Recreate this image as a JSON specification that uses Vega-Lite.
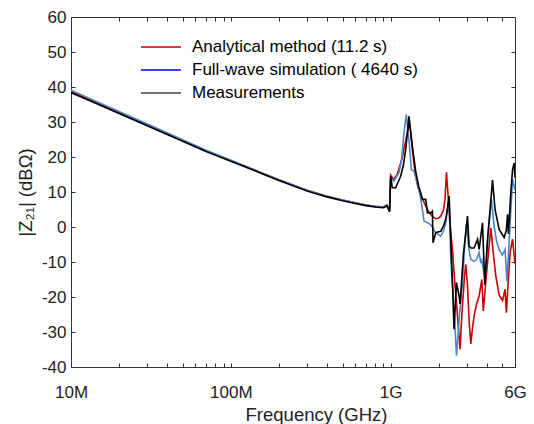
{
  "$schema": "https://vega.github.io/schema/vega-lite/v6.json",
  "width": 444,
  "height": 350,
  "autosize": {"type": "none"},
  "padding": {"left": 71, "top": 17, "right": 19, "bottom": 57},
  "config": {
    "font": "Liberation Sans",
    "view": {"stroke": "#333333", "strokeWidth": 1},
    "axis": {
      "grid": false,
      "domain": false,
      "tickColor": "#333333",
      "tickSize": -4,
      "labelFont": "Liberation Sans",
      "labelFontSize": 17,
      "labelColor": "#222222",
      "titleFont": "Liberation Sans",
      "titleFontSize": 18.5,
      "titleFontWeight": "normal",
      "titleColor": "#222222"
    }
  },
  "data": {
    "values": [
      {"s": "Analytical method (11.2 s)", "f": 1e7, "v": 38.7},
      {"s": "Analytical method (11.2 s)", "f": 1.5e7, "v": 35.2},
      {"s": "Analytical method (11.2 s)", "f": 2e7, "v": 32.7},
      {"s": "Analytical method (11.2 s)", "f": 3e7, "v": 29.1},
      {"s": "Analytical method (11.2 s)", "f": 5e7, "v": 24.7},
      {"s": "Analytical method (11.2 s)", "f": 7e7, "v": 21.8},
      {"s": "Analytical method (11.2 s)", "f": 1e8, "v": 19.0},
      {"s": "Analytical method (11.2 s)", "f": 1.5e8, "v": 15.8},
      {"s": "Analytical method (11.2 s)", "f": 2e8, "v": 13.5},
      {"s": "Analytical method (11.2 s)", "f": 3e8, "v": 10.5},
      {"s": "Analytical method (11.2 s)", "f": 4e8, "v": 8.8},
      {"s": "Analytical method (11.2 s)", "f": 5e8, "v": 7.7},
      {"s": "Analytical method (11.2 s)", "f": 6e8, "v": 6.9},
      {"s": "Analytical method (11.2 s)", "f": 7e8, "v": 6.3},
      {"s": "Analytical method (11.2 s)", "f": 8e8, "v": 5.9},
      {"s": "Analytical method (11.2 s)", "f": 9e8, "v": 5.7},
      {"s": "Analytical method (11.2 s)", "f": 9.5e8, "v": 6.3},
      {"s": "Analytical method (11.2 s)", "f": 9.85e8, "v": 4.4},
      {"s": "Analytical method (11.2 s)", "f": 1.0e9, "v": 14.8},
      {"s": "Analytical method (11.2 s)", "f": 1.04e9, "v": 13.6},
      {"s": "Analytical method (11.2 s)", "f": 1.10e9, "v": 15.0},
      {"s": "Analytical method (11.2 s)", "f": 1.18e9, "v": 19.7},
      {"s": "Analytical method (11.2 s)", "f": 1.24e9, "v": 24.5},
      {"s": "Analytical method (11.2 s)", "f": 1.28e9, "v": 27.5},
      {"s": "Analytical method (11.2 s)", "f": 1.315e9, "v": 29.5},
      {"s": "Analytical method (11.2 s)", "f": 1.34e9, "v": 26.0},
      {"s": "Analytical method (11.2 s)", "f": 1.368e9, "v": 22.1},
      {"s": "Analytical method (11.2 s)", "f": 1.40e9, "v": 18.0},
      {"s": "Analytical method (11.2 s)", "f": 1.435e9, "v": 14.5},
      {"s": "Analytical method (11.2 s)", "f": 1.48e9, "v": 11.5},
      {"s": "Analytical method (11.2 s)", "f": 1.54e9, "v": 9.3},
      {"s": "Analytical method (11.2 s)", "f": 1.60e9, "v": 7.5},
      {"s": "Analytical method (11.2 s)", "f": 1.657e9, "v": 6.0},
      {"s": "Analytical method (11.2 s)", "f": 1.72e9, "v": 4.6},
      {"s": "Analytical method (11.2 s)", "f": 1.78e9, "v": 3.6},
      {"s": "Analytical method (11.2 s)", "f": 1.85e9, "v": 2.8},
      {"s": "Analytical method (11.2 s)", "f": 1.915e9, "v": 2.4},
      {"s": "Analytical method (11.2 s)", "f": 1.99e9, "v": 2.5},
      {"s": "Analytical method (11.2 s)", "f": 2.058e9, "v": 3.1},
      {"s": "Analytical method (11.2 s)", "f": 2.14e9, "v": 4.8},
      {"s": "Analytical method (11.2 s)", "f": 2.19e9, "v": 8.0},
      {"s": "Analytical method (11.2 s)", "f": 2.235e9, "v": 15.6},
      {"s": "Analytical method (11.2 s)", "f": 2.28e9, "v": 10.0},
      {"s": "Analytical method (11.2 s)", "f": 2.35e9, "v": 1.0},
      {"s": "Analytical method (11.2 s)", "f": 2.437e9, "v": -6.4},
      {"s": "Analytical method (11.2 s)", "f": 2.53e9, "v": -17.0},
      {"s": "Analytical method (11.2 s)", "f": 2.62e9, "v": -25.4},
      {"s": "Analytical method (11.2 s)", "f": 2.72e9, "v": -34.9},
      {"s": "Analytical method (11.2 s)", "f": 2.80e9, "v": -24.0},
      {"s": "Analytical method (11.2 s)", "f": 2.90e9, "v": -14.0},
      {"s": "Analytical method (11.2 s)", "f": 2.953e9, "v": -10.7},
      {"s": "Analytical method (11.2 s)", "f": 3.02e9, "v": -16.0},
      {"s": "Analytical method (11.2 s)", "f": 3.10e9, "v": -27.0},
      {"s": "Analytical method (11.2 s)", "f": 3.174e9, "v": -33.4},
      {"s": "Analytical method (11.2 s)", "f": 3.25e9, "v": -29.0},
      {"s": "Analytical method (11.2 s)", "f": 3.329e9, "v": -25.4},
      {"s": "Analytical method (11.2 s)", "f": 3.45e9, "v": -22.0},
      {"s": "Analytical method (11.2 s)", "f": 3.578e9, "v": -19.7},
      {"s": "Analytical method (11.2 s)", "f": 3.72e9, "v": -15.0},
      {"s": "Analytical method (11.2 s)", "f": 3.80e9, "v": -24.0},
      {"s": "Analytical method (11.2 s)", "f": 3.95e9, "v": -15.0},
      {"s": "Analytical method (11.2 s)", "f": 4.10e9, "v": -7.0},
      {"s": "Analytical method (11.2 s)", "f": 4.236e9, "v": -0.3},
      {"s": "Analytical method (11.2 s)", "f": 4.40e9, "v": -8.0},
      {"s": "Analytical method (11.2 s)", "f": 4.55e9, "v": -14.0},
      {"s": "Analytical method (11.2 s)", "f": 4.775e9, "v": -19.5},
      {"s": "Analytical method (11.2 s)", "f": 5.015e9, "v": -21.0},
      {"s": "Analytical method (11.2 s)", "f": 5.2e9, "v": -17.8},
      {"s": "Analytical method (11.2 s)", "f": 5.30e9, "v": -24.5},
      {"s": "Analytical method (11.2 s)", "f": 5.45e9, "v": -15.0},
      {"s": "Analytical method (11.2 s)", "f": 5.60e9, "v": -7.0},
      {"s": "Analytical method (11.2 s)", "f": 5.794e9, "v": -3.5},
      {"s": "Analytical method (11.2 s)", "f": 6.0e9, "v": -10.5},

      {"s": "Full-wave simulation ( 4640 s)", "f": 1e7, "v": 39.1},
      {"s": "Full-wave simulation ( 4640 s)", "f": 1.5e7, "v": 35.5},
      {"s": "Full-wave simulation ( 4640 s)", "f": 2e7, "v": 33.0},
      {"s": "Full-wave simulation ( 4640 s)", "f": 3e7, "v": 29.4},
      {"s": "Full-wave simulation ( 4640 s)", "f": 5e7, "v": 24.9},
      {"s": "Full-wave simulation ( 4640 s)", "f": 7e7, "v": 21.9},
      {"s": "Full-wave simulation ( 4640 s)", "f": 1e8, "v": 19.1},
      {"s": "Full-wave simulation ( 4640 s)", "f": 1.5e8, "v": 15.8},
      {"s": "Full-wave simulation ( 4640 s)", "f": 2e8, "v": 13.5},
      {"s": "Full-wave simulation ( 4640 s)", "f": 3e8, "v": 10.5},
      {"s": "Full-wave simulation ( 4640 s)", "f": 4e8, "v": 8.8},
      {"s": "Full-wave simulation ( 4640 s)", "f": 5e8, "v": 7.7},
      {"s": "Full-wave simulation ( 4640 s)", "f": 6e8, "v": 6.9},
      {"s": "Full-wave simulation ( 4640 s)", "f": 7e8, "v": 6.3},
      {"s": "Full-wave simulation ( 4640 s)", "f": 8e8, "v": 5.9},
      {"s": "Full-wave simulation ( 4640 s)", "f": 9e8, "v": 5.7},
      {"s": "Full-wave simulation ( 4640 s)", "f": 9.5e8, "v": 6.2},
      {"s": "Full-wave simulation ( 4640 s)", "f": 9.85e8, "v": 4.6},
      {"s": "Full-wave simulation ( 4640 s)", "f": 1.0e9, "v": 14.0},
      {"s": "Full-wave simulation ( 4640 s)", "f": 1.049e9, "v": 13.1},
      {"s": "Full-wave simulation ( 4640 s)", "f": 1.127e9, "v": 15.5},
      {"s": "Full-wave simulation ( 4640 s)", "f": 1.17e9, "v": 19.0},
      {"s": "Full-wave simulation ( 4640 s)", "f": 1.212e9, "v": 26.9},
      {"s": "Full-wave simulation ( 4640 s)", "f": 1.254e9, "v": 32.1},
      {"s": "Full-wave simulation ( 4640 s)", "f": 1.28e9, "v": 28.0},
      {"s": "Full-wave simulation ( 4640 s)", "f": 1.302e9, "v": 25.0},
      {"s": "Full-wave simulation ( 4640 s)", "f": 1.349e9, "v": 16.4},
      {"s": "Full-wave simulation ( 4640 s)", "f": 1.40e9, "v": 15.9},
      {"s": "Full-wave simulation ( 4640 s)", "f": 1.45e9, "v": 13.5},
      {"s": "Full-wave simulation ( 4640 s)", "f": 1.504e9, "v": 10.7},
      {"s": "Full-wave simulation ( 4640 s)", "f": 1.55e9, "v": 7.5},
      {"s": "Full-wave simulation ( 4640 s)", "f": 1.58e9, "v": 5.0},
      {"s": "Full-wave simulation ( 4640 s)", "f": 1.618e9, "v": 1.7},
      {"s": "Full-wave simulation ( 4640 s)", "f": 1.70e9, "v": 1.2},
      {"s": "Full-wave simulation ( 4640 s)", "f": 1.782e9, "v": 0.7},
      {"s": "Full-wave simulation ( 4640 s)", "f": 1.915e9, "v": -1.6},
      {"s": "Full-wave simulation ( 4640 s)", "f": 2.058e9, "v": -2.6},
      {"s": "Full-wave simulation ( 4640 s)", "f": 2.15e9, "v": -1.0},
      {"s": "Full-wave simulation ( 4640 s)", "f": 2.212e9, "v": 1.2},
      {"s": "Full-wave simulation ( 4640 s)", "f": 2.27e9, "v": 5.0},
      {"s": "Full-wave simulation ( 4640 s)", "f": 2.321e9, "v": 8.8},
      {"s": "Full-wave simulation ( 4640 s)", "f": 2.378e9, "v": -9.2},
      {"s": "Full-wave simulation ( 4640 s)", "f": 2.494e9, "v": -23.5},
      {"s": "Full-wave simulation ( 4640 s)", "f": 2.582e9, "v": -36.8},
      {"s": "Full-wave simulation ( 4640 s)", "f": 2.70e9, "v": -25.0},
      {"s": "Full-wave simulation ( 4640 s)", "f": 2.816e9, "v": -15.9},
      {"s": "Full-wave simulation ( 4640 s)", "f": 2.90e9, "v": -6.0},
      {"s": "Full-wave simulation ( 4640 s)", "f": 2.983e9, "v": 0.7},
      {"s": "Full-wave simulation ( 4640 s)", "f": 3.08e9, "v": -6.0},
      {"s": "Full-wave simulation ( 4640 s)", "f": 3.174e9, "v": -9.2},
      {"s": "Full-wave simulation ( 4640 s)", "f": 3.32e9, "v": -9.8},
      {"s": "Full-wave simulation ( 4640 s)", "f": 3.45e9, "v": -9.3},
      {"s": "Full-wave simulation ( 4640 s)", "f": 3.578e9, "v": -7.3},
      {"s": "Full-wave simulation ( 4640 s)", "f": 3.667e9, "v": -10.3},
      {"s": "Full-wave simulation ( 4640 s)", "f": 3.72e9, "v": -9.5},
      {"s": "Full-wave simulation ( 4640 s)", "f": 3.80e9, "v": -12.0},
      {"s": "Full-wave simulation ( 4640 s)", "f": 3.90e9, "v": -14.5},
      {"s": "Full-wave simulation ( 4640 s)", "f": 4.05e9, "v": -3.0},
      {"s": "Full-wave simulation ( 4640 s)", "f": 4.27e9, "v": 7.9},
      {"s": "Full-wave simulation ( 4640 s)", "f": 4.45e9, "v": 0.0},
      {"s": "Full-wave simulation ( 4640 s)", "f": 4.60e9, "v": -4.0},
      {"s": "Full-wave simulation ( 4640 s)", "f": 4.775e9, "v": -6.5},
      {"s": "Full-wave simulation ( 4640 s)", "f": 5.0e9, "v": -8.0},
      {"s": "Full-wave simulation ( 4640 s)", "f": 5.2e9, "v": -6.4},
      {"s": "Full-wave simulation ( 4640 s)", "f": 5.34e9, "v": -15.5},
      {"s": "Full-wave simulation ( 4640 s)", "f": 5.55e9, "v": -2.0},
      {"s": "Full-wave simulation ( 4640 s)", "f": 5.794e9, "v": 13.8},
      {"s": "Full-wave simulation ( 4640 s)", "f": 6.0e9, "v": 10.5},

      {"s": "Measurements", "f": 1e7, "v": 38.4},
      {"s": "Measurements", "f": 1.5e7, "v": 34.9},
      {"s": "Measurements", "f": 2e7, "v": 32.4},
      {"s": "Measurements", "f": 3e7, "v": 28.9},
      {"s": "Measurements", "f": 5e7, "v": 24.5},
      {"s": "Measurements", "f": 7e7, "v": 21.6},
      {"s": "Measurements", "f": 1e8, "v": 18.8},
      {"s": "Measurements", "f": 1.5e8, "v": 15.6},
      {"s": "Measurements", "f": 2e8, "v": 13.3},
      {"s": "Measurements", "f": 3e8, "v": 10.3},
      {"s": "Measurements", "f": 4e8, "v": 8.6},
      {"s": "Measurements", "f": 5e8, "v": 7.5},
      {"s": "Measurements", "f": 6e8, "v": 6.7},
      {"s": "Measurements", "f": 7e8, "v": 6.1},
      {"s": "Measurements", "f": 8e8, "v": 5.7},
      {"s": "Measurements", "f": 9e8, "v": 5.5},
      {"s": "Measurements", "f": 9.5e8, "v": 6.0},
      {"s": "Measurements", "f": 9.85e8, "v": 4.4},
      {"s": "Measurements", "f": 1.0e9, "v": 14.5},
      {"s": "Measurements", "f": 1.025e9, "v": 11.2},
      {"s": "Measurements", "f": 1.075e9, "v": 11.2},
      {"s": "Measurements", "f": 1.155e9, "v": 14.5},
      {"s": "Measurements", "f": 1.20e9, "v": 17.5},
      {"s": "Measurements", "f": 1.242e9, "v": 22.1},
      {"s": "Measurements", "f": 1.28e9, "v": 28.0},
      {"s": "Measurements", "f": 1.302e9, "v": 31.6},
      {"s": "Measurements", "f": 1.33e9, "v": 28.0},
      {"s": "Measurements", "f": 1.368e9, "v": 23.0},
      {"s": "Measurements", "f": 1.435e9, "v": 15.9},
      {"s": "Measurements", "f": 1.50e9, "v": 11.5},
      {"s": "Measurements", "f": 1.542e9, "v": 9.8},
      {"s": "Measurements", "f": 1.58e9, "v": 7.9},
      {"s": "Measurements", "f": 1.657e9, "v": 7.9},
      {"s": "Measurements", "f": 1.699e9, "v": 4.1},
      {"s": "Measurements", "f": 1.78e9, "v": 4.0},
      {"s": "Measurements", "f": 1.826e9, "v": 4.5},
      {"s": "Measurements", "f": 1.842e9, "v": -4.5},
      {"s": "Measurements", "f": 1.915e9, "v": -1.6},
      {"s": "Measurements", "f": 2.058e9, "v": -1.2},
      {"s": "Measurements", "f": 2.15e9, "v": 0.5},
      {"s": "Measurements", "f": 2.212e9, "v": 2.2},
      {"s": "Measurements", "f": 2.27e9, "v": 5.5},
      {"s": "Measurements", "f": 2.321e9, "v": 8.8},
      {"s": "Measurements", "f": 2.437e9, "v": -15.9},
      {"s": "Measurements", "f": 2.494e9, "v": -29.2},
      {"s": "Measurements", "f": 2.582e9, "v": -15.9},
      {"s": "Measurements", "f": 2.681e9, "v": -19.7},
      {"s": "Measurements", "f": 2.72e9, "v": -22.0},
      {"s": "Measurements", "f": 2.85e9, "v": -8.0},
      {"s": "Measurements", "f": 3.026e9, "v": 3.1},
      {"s": "Measurements", "f": 3.097e9, "v": -5.4},
      {"s": "Measurements", "f": 3.174e9, "v": -6.0},
      {"s": "Measurements", "f": 3.33e9, "v": -6.0},
      {"s": "Measurements", "f": 3.497e9, "v": -3.5},
      {"s": "Measurements", "f": 3.578e9, "v": -6.4},
      {"s": "Measurements", "f": 3.758e9, "v": 1.2},
      {"s": "Measurements", "f": 3.88e9, "v": -16.5},
      {"s": "Measurements", "f": 4.05e9, "v": -3.0},
      {"s": "Measurements", "f": 4.341e9, "v": 13.4},
      {"s": "Measurements", "f": 4.50e9, "v": 5.0},
      {"s": "Measurements", "f": 4.775e9, "v": -0.7},
      {"s": "Measurements", "f": 5.13e9, "v": -3.0},
      {"s": "Measurements", "f": 5.29e9, "v": -1.0},
      {"s": "Measurements", "f": 5.39e9, "v": 3.6},
      {"s": "Measurements", "f": 5.46e9, "v": -2.0},
      {"s": "Measurements", "f": 5.65e9, "v": 10.0},
      {"s": "Measurements", "f": 5.794e9, "v": 16.4},
      {"s": "Measurements", "f": 5.93e9, "v": 18.3},
      {"s": "Measurements", "f": 6.0e9, "v": 14.0}
    ]
  },
  "layer": [
    {
      "mark": {"type": "line", "strokeWidth": 1.6, "clip": true},
      "encoding": {
        "x": {
          "field": "f",
          "type": "quantitative",
          "scale": {"type": "log", "domain": [10000000, 6000000000]},
          "axis": {
            "orient": "bottom",
            "title": "Frequency (GHz)",
            "titleX": 245,
            "titleAlign": "center",
            "values": [10000000, 20000000, 30000000, 40000000, 50000000, 60000000, 70000000, 80000000, 90000000, 100000000, 200000000, 300000000, 400000000, 500000000, 600000000, 700000000, 800000000, 900000000, 1000000000, 2000000000, 3000000000, 4000000000, 5000000000, 6000000000],
            "labelExpr": "datum.value == 10000000 ? '10M' : datum.value == 100000000 ? '100M' : datum.value == 1000000000 ? '1G' : datum.value == 6000000000 ? '6G' : ''",
            "labelOverlap": false,
            "labelFlush": false,
            "labelPadding": 21,
            "titlePadding": 5
          }
        },
        "y": {
          "field": "v",
          "type": "quantitative",
          "scale": {"domain": [-40, 60], "nice": false, "zero": false},
          "axis": {
            "orient": "left",
            "title": "|Z₂₁| (dBΩ)",
            "values": [-40, -30, -20, -10, 0, 10, 20, 30, 40, 50, 60],
            "labelExpr": "'' + datum.value",
            "labelPadding": 9,
            "titlePadding": 6
          }
        },
        "color": {
          "field": "s",
          "type": "nominal",
          "scale": {
            "domain": ["Analytical method (11.2 s)", "Full-wave simulation ( 4640 s)", "Measurements"],
            "range": ["#cc0000", "#4a86c8", "#000000"]
          },
          "legend": null
        }
      }
    },
    {
      "transform": [{"filter": "false"}],
      "mark": {"type": "line", "strokeWidth": 1.3},
      "encoding": {
        "x": {
          "field": "f",
          "type": "quantitative",
          "scale": {"type": "log", "domain": [10000000, 6000000000]},
          "axis": {
            "orient": "top",
            "title": null,
            "labels": false,
            "values": [20000000, 30000000, 40000000, 50000000, 60000000, 70000000, 80000000, 90000000, 100000000, 200000000, 300000000, 400000000, 500000000, 600000000, 700000000, 800000000, 900000000, 1000000000, 2000000000, 3000000000, 4000000000, 5000000000]
          }
        },
        "y": {
          "field": "v",
          "type": "quantitative",
          "scale": {"domain": [-40, 60], "nice": false, "zero": false},
          "axis": {
            "orient": "right",
            "title": null,
            "labels": false,
            "values": [-30, -20, -10, 0, 10, 20, 30, 40, 50]
          }
        },
        "color": {
          "field": "s",
          "type": "nominal",
          "scale": {
            "domain": ["Analytical method (11.2 s)", "Full-wave simulation ( 4640 s)", "Measurements"],
            "range": ["#c00000", "#0000ff", "#444444"]
          },
          "legend": {
            "orient": "none",
            "legendX": 79,
            "legendY": 19,
            "title": null,
            "symbolType": "M-2,0H2",
            "symbolSize": 400,
            "symbolStrokeWidth": 1.3,
            "labelFont": "Liberation Sans",
            "labelFontSize": 17,
            "labelColor": "#000000",
            "labelLimit": 0,
            "labelOffset": 20,
            "rowPadding": 4,
            "padding": 0
          }
        }
      }
    }
  ],
  "resolve": {"axis": {"x": "independent", "y": "independent"}, "scale": {"color": "independent"}}
}
